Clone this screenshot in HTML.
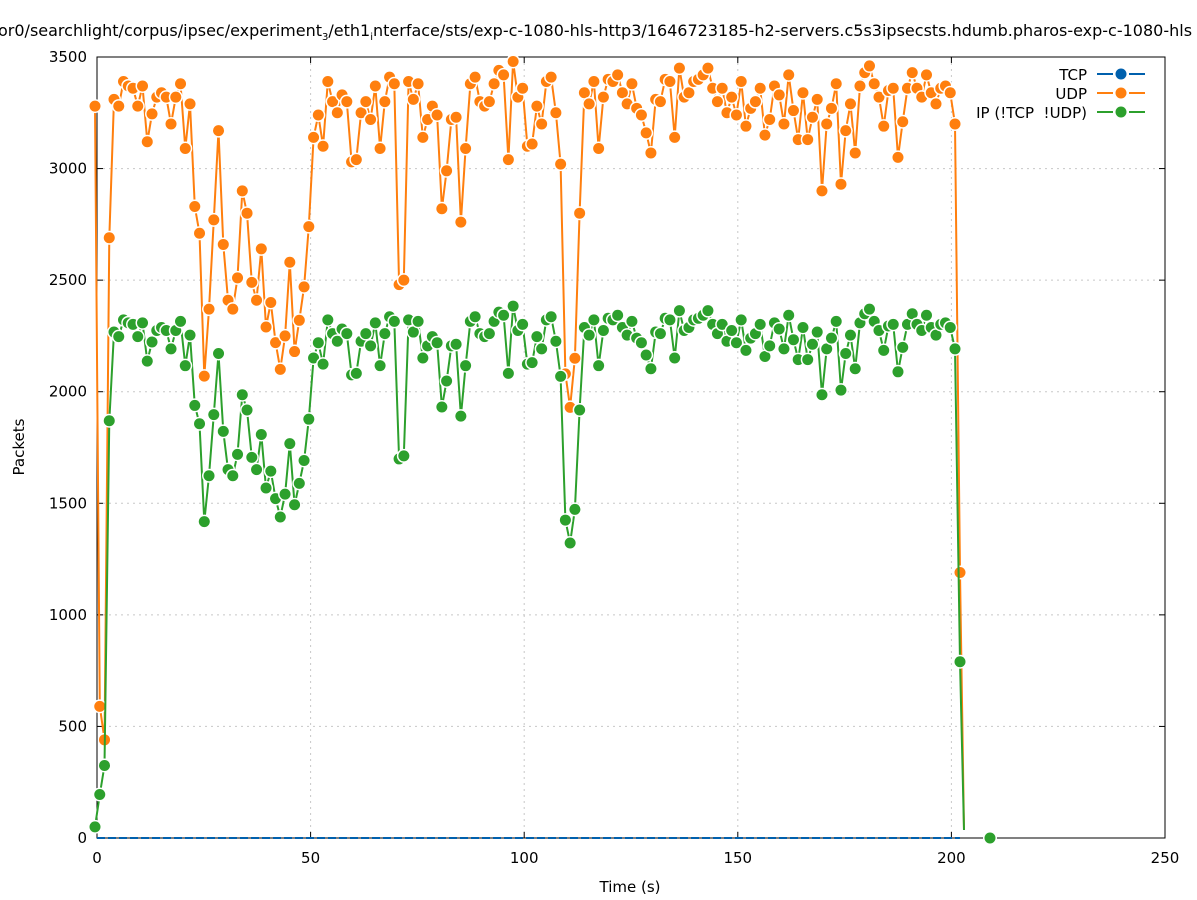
<!DOCTYPE html>
<html><head><meta charset="utf-8"><style>
html,body{margin:0;padding:0;background:#fff;}
svg{display:block;font-family:"DejaVu Sans","Liberation Sans",sans-serif;}
</style></head><body>
<svg id="s" width="1197" height="900" viewBox="0 0 1197 900" xmlns="http://www.w3.org/2000/svg">
<rect width="1197" height="900" fill="#fff"/>
<text x="-2" y="36" font-size="16" fill="#000">or0/searchlight/corpus/ipsec/experiment<tspan font-size="10" dy="4">3</tspan><tspan dy="-4">/eth1</tspan><tspan font-size="10" dy="4">i</tspan><tspan dy="-4">nterface/sts/exp-c-1080-hls-http3/1646723185-h2-servers.c5s3ipsecsts.hdumb.pharos-exp-c-1080-hls</tspan></text>
<g id="grid" stroke="#c8c8c8" stroke-width="1" stroke-dasharray="2,4"></g>
<g id="axes"></g>
<g id="data"></g>
<text x="630" y="892" font-size="15" text-anchor="middle">Time (s)</text>
<text transform="translate(24,447) rotate(-90)" font-size="15" text-anchor="middle">Packets</text>
<g font-size="15" text-anchor="end">
<text x="1087" y="80">TCP</text>
<text x="1087" y="99">UDP</text>
<text x="1087" y="118" xml:space="preserve" style="white-space:pre">IP (!TCP  !UDP)</text>
</g>
<g stroke-width="2">
<line x1="1097" y1="74" x2="1113" y2="74" stroke="#0060ad"/><line x1="1129" y1="74" x2="1145" y2="74" stroke="#0060ad"/><circle cx="1121" cy="74" r="5.5" fill="#0060ad" stroke="none"/>
<line x1="1097" y1="93" x2="1113" y2="93" stroke="#ff7f0e"/><line x1="1129" y1="93" x2="1145" y2="93" stroke="#ff7f0e"/><circle cx="1121" cy="93" r="5.5" fill="#ff7f0e" stroke="none"/>
<line x1="1097" y1="112" x2="1113" y2="112" stroke="#2ca02c"/><line x1="1129" y1="112" x2="1145" y2="112" stroke="#2ca02c"/><circle cx="1121" cy="112" r="5.5" fill="#2ca02c" stroke="none"/>
</g>
</svg>
<script>
var NS="http://www.w3.org/2000/svg";
function el(p,t,a,txt){var e=document.createElementNS(NS,t);for(var k in a)e.setAttribute(k,a[k]);if(txt!==undefined)e.textContent=txt;p.appendChild(e);return e;}
var L=97,R=1165,T=57,B=838;
function X(t){return L+t*(R-L)/250;}
function Y(v){return B-v*(B-T)/3500;}
var g=document.getElementById('grid'),ax=document.getElementById('axes');
for(var v=500;v<=3500;v+=500){el(g,'line',{x1:L,x2:R,y1:Y(v),y2:Y(v)});}
for(var t=50;t<=250;t+=50){el(g,'line',{x1:X(t),x2:X(t),y1:T,y2:B});}
el(ax,'rect',{x:L,y:T,width:R-L,height:B-T,fill:'none',stroke:'#000','stroke-width':1});
for(var v=0;v<=3500;v+=500){el(ax,'line',{x1:L,x2:L+6,y1:Y(v),y2:Y(v),stroke:'#000'});el(ax,'line',{x1:R,x2:R-6,y1:Y(v),y2:Y(v),stroke:'#000'});
el(ax,'text',{x:L-10,y:Y(v)+5,'font-size':15,'text-anchor':'end'},String(v));}
for(var t=0;t<=250;t+=50){el(ax,'line',{x1:X(t),x2:X(t),y1:B,y2:B-6,stroke:'#000'});el(ax,'line',{x1:X(t),x2:X(t),y1:T,y2:T+6,stroke:'#000'});
el(ax,'text',{x:X(t),y:B+25,'font-size':15,'text-anchor':'middle'},String(t));}
var u=[3280,590,440,2690,3310,3280,3390,3370,3360,3280,3370,3120,3245,3320,3340,3320,3200,3320,3380,3090,3290,2830,2710,2070,2370,2770,3170,2660,2410,2370,2510,2900,2800,2490,2410,2640,2290,2400,2220,2100,2250,2580,2180,2320,2470,2740,3140,3240,3100,3390,3300,3250,3330,3300,3030,3040,3250,3300,3220,3370,3090,3300,3410,3380,2480,2500,3390,3310,3380,3140,3220,3280,3240,2820,2990,3220,3230,2760,3090,3380,3410,3300,3280,3300,3380,3440,3420,3040,3480,3320,3360,3100,3110,3280,3200,3390,3410,3250,3020,2080,1930,2150,2800,3340,3290,3390,3090,3320,3400,3390,3420,3340,3290,3380,3270,3240,3160,3070,3310,3300,3400,3390,3140,3450,3320,3340,3390,3400,3420,3450,3360,3300,3360,3250,3320,3240,3390,3190,3270,3300,3360,3150,3220,3370,3330,3200,3420,3260,3130,3340,3130,3230,3310,2900,3200,3270,3380,2930,3170,3290,3070,3370,3430,3460,3380,3320,3190,3350,3360,3050,3210,3360,3430,3360,3320,3420,3340,3290,3360,3370,3340,3200];
var n=u.length;var xs=[];
for(var i=0;i<n;i++){xs.push(95+i*(955-95)/(n-1));}
var gr=u.map(function(v){return v*0.685;});
gr[0]=50;gr[1]=195;gr[2]=325;gr[3]=1870;
var d=document.getElementById('data');
el(d,'line',{x1:X(0),x2:X(202),y1:B,y2:B,stroke:'#0060ad','stroke-width':2,'stroke-dasharray':'8,3'});
function series(vals,col,extra){
 var pts=[];for(var i=0;i<n;i++)pts.push([xs[i],Y(vals[i])]);
 pts=pts.concat(extra.line);
 var s=pts.map(function(p){return p[0].toFixed(1)+','+p[1].toFixed(1);}).join(' ');
 el(d,'polyline',{points:s,fill:'none',stroke:col,'stroke-width':2,'stroke-linejoin':'round'});
 var mk=[];for(var i=0;i<n;i++)mk.push([xs[i],Y(vals[i])]);mk=mk.concat(extra.mk);
 mk.forEach(function(p){el(d,'circle',{cx:p[0],cy:p[1],r:7,fill:'#fff'});el(d,'circle',{cx:p[0],cy:p[1],r:5.5,fill:col});});
}
series(u,'#ff7f0e',{line:[[960,Y(1190)],[964,830]],mk:[[960,Y(1190)]]});
series(gr,'#2ca02c',{line:[[960,Y(790)],[964,830]],mk:[[960,Y(790)],[990,B]]});
</script>
</body></html>
